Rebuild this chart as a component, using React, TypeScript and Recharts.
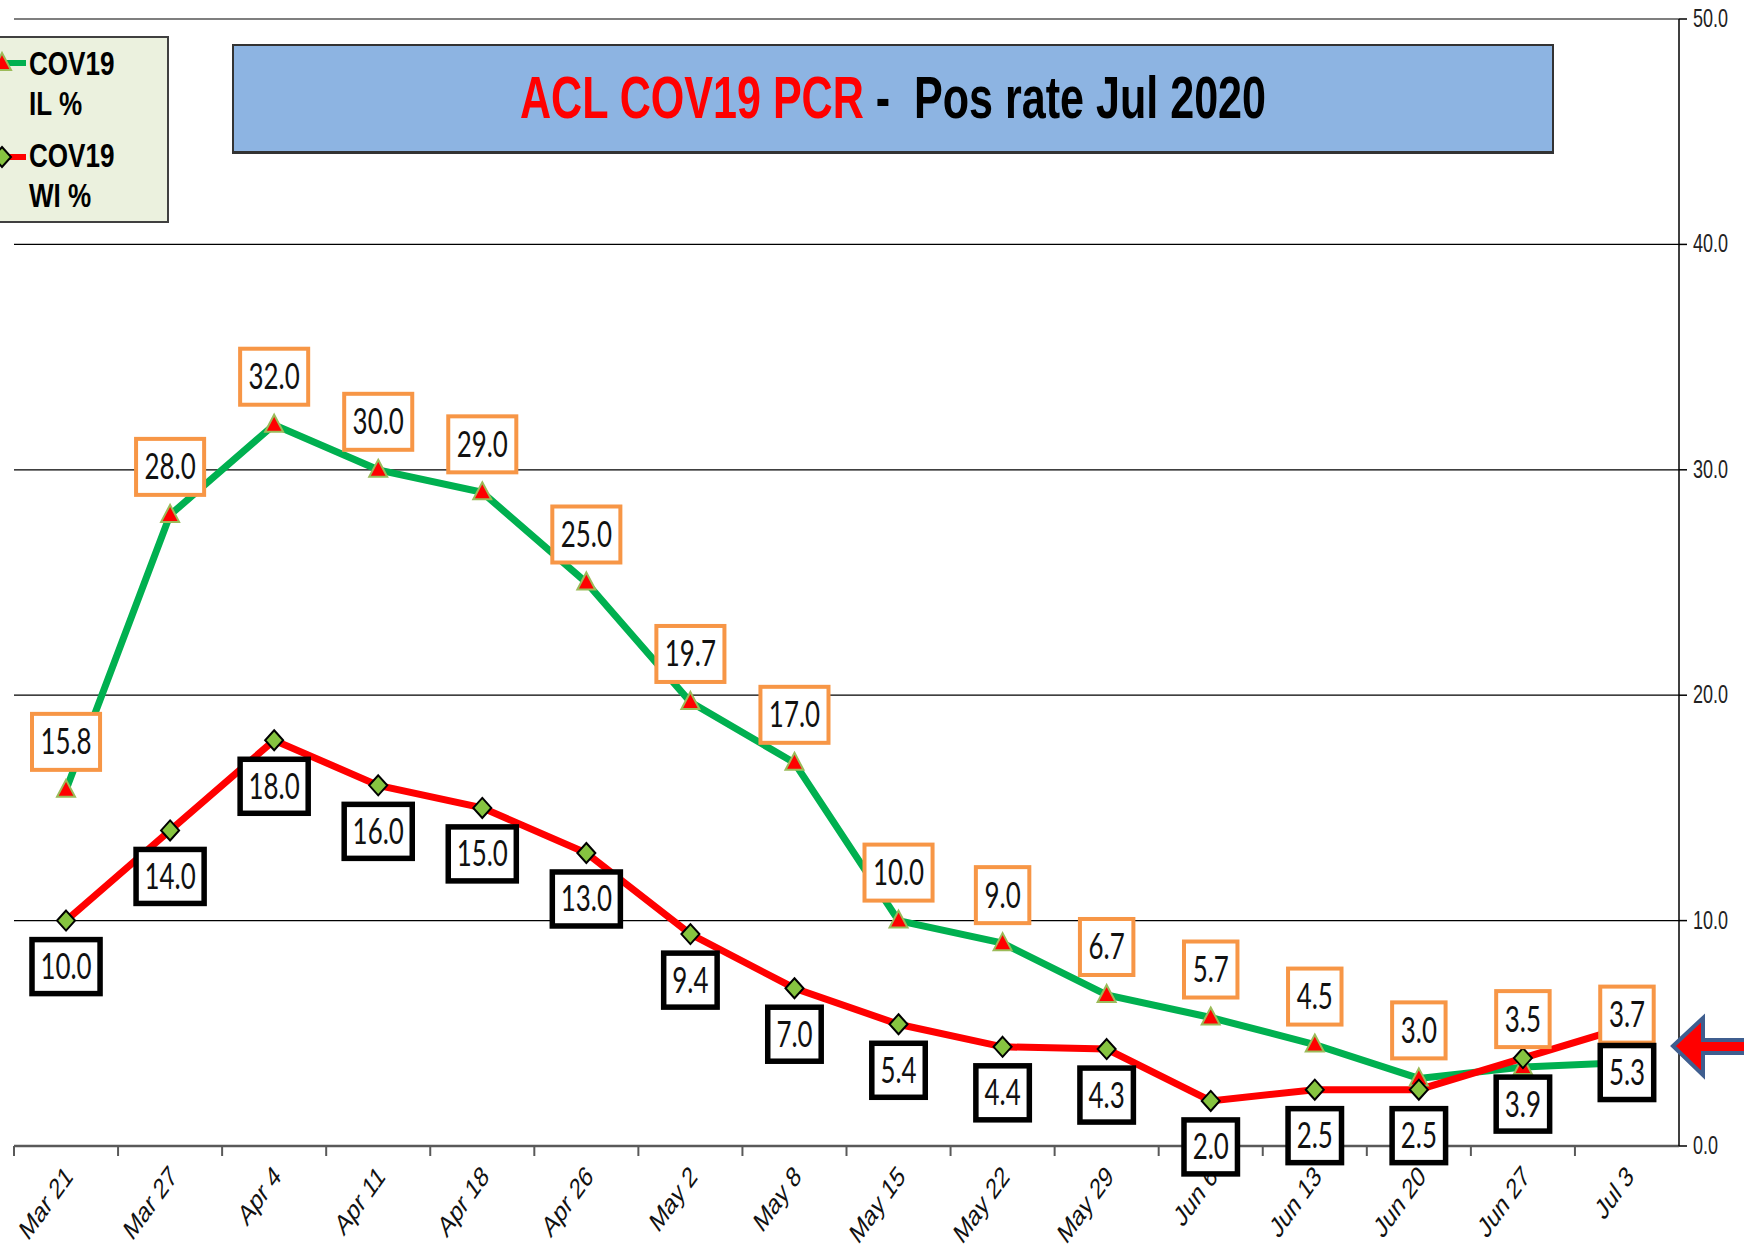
import React from 'react';
import { LineChart, Line, XAxis, YAxis, CartesianGrid, LabelList } from 'recharts';

const categories = [
  'Mar 21', 'Mar 27', 'Apr 4', 'Apr 11', 'Apr 18', 'Apr 26', 'May 2', 'May 8',
  'May 15', 'May 22', 'May 29', 'Jun 6', 'Jun 13', 'Jun 20', 'Jun 27', 'Jul 3',
];
const ilValues = [15.8, 28.0, 32.0, 30.0, 29.0, 25.0, 19.7, 17.0, 10.0, 9.0, 6.7, 5.7, 4.5, 3.0, 3.5, 3.7];
const wiValues = [10.0, 14.0, 18.0, 16.0, 15.0, 13.0, 9.4, 7.0, 5.4, 4.4, 4.3, 2.0, 2.5, 2.5, 3.9, 5.3];
const yTicks = [0, 10, 20, 30, 40, 50];

const data = categories.map((date, i) => ({ date, il: ilValues[i], wi: wiValues[i] }));

const W = 1744;
const H = 1250;
const margin = { top: 19, right: 10, bottom: 4, left: 14 };
const yAxisW = 55;
const xAxisH = 100;
const plotW = W - margin.left - margin.right - yAxisW;
const band = plotW / categories.length;
const SQ = 0.72; // the source picture is squeezed horizontally

const labelFont = 'Lato, "Open Sans", sans-serif';
const axisFont = '"Liberation Sans", Arial, sans-serif';

const textWidth = (s: string) =>
  s.split('').reduce((a, ch) => a + (ch === '.' ? 0.252 : 0.507), 0) * 40 * SQ;

const SqText = ({ x, y, size, children, anchor = 'middle', fill = '#111', font = labelFont, weight = 'normal', sq = SQ }: any) => (
  <text
    transform={`translate(${x},${y}) scale(${sq},1)`}
    textAnchor={anchor}
    fontSize={size}
    fontFamily={font}
    fontWeight={weight}
    fill={fill}
  >
    {children}
  </text>
);

const IlLabel = (props: any) => {
  const { x, y, value } = props;
  if (x == null || y == null) return null;
  const s = Number(value).toFixed(1);
  const w = textWidth(s) + 17;
  const cy = y - 48;
  return (
    <g>
      <rect x={x - w / 2} y={cy - 28} width={w} height={56} fill="#fff" stroke="#F79646" strokeWidth={4} />
      <SqText x={x} y={cy + 12.5} size={36}>{s}</SqText>
    </g>
  );
};

const WiLabel = (props: any) => {
  const { x, y, value } = props;
  if (x == null || y == null) return null;
  const s = Number(value).toFixed(1);
  const w = textWidth(s) + 17;
  const cy = y + 46;
  return (
    <g>
      <rect x={x - w / 2 + 2} y={cy - 27 + 2} width={w} height={54} fill="#555" opacity={0.5} />
      <rect x={x - w / 2} y={cy - 27} width={w} height={54} fill="#fff" stroke="#000" strokeWidth={5.5} />
      <SqText x={x} y={cy + 12.5} size={36}>{s}</SqText>
    </g>
  );
};

const TriangleDot = (props: any) => {
  const { cx, cy, index } = props;
  if (cx == null || cy == null) return null;
  return (
    <path
      key={`t-${index}`}
      d={`M${cx},${cy - 10} L${cx + 9},${cy + 7} L${cx - 9},${cy + 7} Z`}
      fill="#FF0000"
      stroke="#9BBB59"
      strokeWidth={2}
    />
  );
};

const DiamondDot = (props: any) => {
  const { cx, cy, index } = props;
  if (cx == null || cy == null) return null;
  return (
    <path
      key={`d-${index}`}
      d={`M${cx},${cy - 10} L${cx + 9},${cy} L${cx},${cy + 10} L${cx - 9},${cy} Z`}
      fill="#86C440"
      stroke="#000"
      strokeWidth={2}
    />
  );
};

const XTick = (props: any) => {
  const { x, y, payload } = props;
  const ax = x + 8;
  const ay = y + 32;
  return (
    <g>
      <line x1={x - band / 2} y1={y} x2={x - band / 2} y2={y + 10} stroke="#595959" strokeWidth={2} />
      <text
        transform={`translate(${ax},${ay}) scale(${SQ},1) rotate(-45)`}
        textAnchor="end"
        fontSize={29}
        fontFamily={axisFont}
        fill="#111"
      >
        {payload.value}
      </text>
    </g>
  );
};

const YTick = (props: any) => {
  const { x, y, payload } = props;
  return (
    <SqText x={x} y={y + 8} size={25} anchor="start" fill="#222" font={axisFont}>
      {Number(payload.value).toFixed(1)}
    </SqText>
  );
};

const LegendBox = () => (
  <svg width={179} height={187} style={{ display: 'block' }}>
    <rect x={1} y={1} width={177} height={185} fill="#EBF1DE" stroke="#404040" strokeWidth={2} />
    <line x1={13} y1={27} x2={36} y2={27} stroke="#00B050" strokeWidth={6} />
    <path d="M12,17 L21,34 L3,34 Z" fill="#FF0000" stroke="#9BBB59" strokeWidth={2} />
    <line x1={13} y1={121} x2={36} y2={121} stroke="#FF0000" strokeWidth={6} />
    <path d="M12,111 L21,121 L12,131 L3,121 Z" fill="#86C440" stroke="#000" strokeWidth={2} />
    <SqText x={39} y={39} size={33} anchor="start" fill="#000" font={axisFont} weight="bold" sq={0.79}>COV19</SqText>
    <SqText x={39} y={79} size={33} anchor="start" fill="#000" font={axisFont} weight="bold" sq={0.79}>IL %</SqText>
    <SqText x={39} y={131} size={33} anchor="start" fill="#000" font={axisFont} weight="bold" sq={0.79}>COV19</SqText>
    <SqText x={39} y={171} size={33} anchor="start" fill="#000" font={axisFont} weight="bold" sq={0.79}>WI %</SqText>
  </svg>
);

export default function App() {
  return (
    <div style={{ position: 'absolute', left: 0, top: 0, width: W, height: H, background: '#fff', overflow: 'hidden' }}>
      <LineChart width={W} height={H} data={data} margin={margin}>
        <CartesianGrid vertical={false} stroke="#000" strokeWidth={1.2} />
        <XAxis
          dataKey="date"
          height={xAxisH}
          interval={0}
          padding={{ left: band / 2, right: band / 2 }}
          axisLine={{ stroke: '#595959', strokeWidth: 2.5 }}
          tickLine={false}
          tickSize={0}
          tickMargin={0}
          tick={<XTick />}
        />
        <YAxis
          orientation="right"
          width={yAxisW}
          domain={[0, 50]}
          ticks={yTicks}
          interval={0}
          axisLine={{ stroke: '#000', strokeWidth: 1.5 }}
          tickLine={{ stroke: '#000', strokeWidth: 1.5 }}
          tickSize={8}
          tickMargin={6}
          tick={<YTick />}
        />
        <Line
          dataKey="il"
          name="COV19 IL %"
          stroke="#00B050"
          strokeWidth={7}
          dot={<TriangleDot />}
          activeDot={false}
          isAnimationActive={false}
        />
        <Line
          dataKey="wi"
          name="COV19 WI %"
          stroke="#FF0000"
          strokeWidth={7}
          dot={<DiamondDot />}
          activeDot={false}
          isAnimationActive={false}
        />
        <Line dataKey="il" stroke="none" dot={false} activeDot={false} legendType="none" isAnimationActive={false}>
          <LabelList dataKey="il" content={<IlLabel />} />
        </Line>
        <Line dataKey="wi" stroke="none" dot={false} activeDot={false} legendType="none" isAnimationActive={false}>
          <LabelList dataKey="wi" content={<WiLabel />} />
        </Line>
      </LineChart>

      {/* legend */}
      <div style={{ position: 'absolute', left: -10, top: 36 }}>
        <LegendBox />
      </div>

      {/* title banner */}
      <div
        style={{
          position: 'absolute', left: 232, top: 44, width: 1318, height: 105,
          background: '#8DB4E2', border: '2px solid #333', borderBottomWidth: 3,
          display: 'flex', alignItems: 'center', justifyContent: 'center',
        }}
      >
        <span
          style={{
            display: 'inline-block', transform: `scaleX(0.73)`, whiteSpace: 'pre',
            fontFamily: axisFont, fontWeight: 'bold', fontSize: 59, lineHeight: 1,
          }}
        >
          <span style={{ color: '#FF0000' }}>ACL COV19 PCR</span>
          <span style={{ color: '#000' }}>{' -  Pos rate Jul 2020'}</span>
        </span>
      </div>

      {/* arrow on the right edge */}
      <svg style={{ position: 'absolute', left: 0, top: 0 }} width={W} height={H} pointerEvents="none">
        <path
          d="M1673,1046 L1703,1018 L1703,1040 L1750,1040 L1750,1053 L1703,1053 L1703,1075 Z"
          fill="#FF0000"
          stroke="#3F5E8F"
          strokeWidth={4}
          strokeLinejoin="miter"
        />
      </svg>
    </div>
  );
}
